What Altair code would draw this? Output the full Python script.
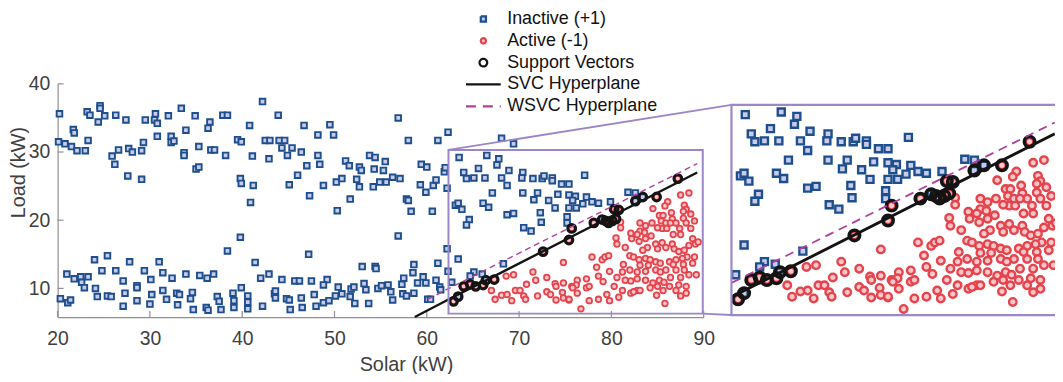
import altair as alt
import pandas as pd

FONT = "Liberation Sans"

# ---------------- data ----------------
inactive = [
    (20.2, 35.6), (24.6, 36.8), (24.6, 36.4), (23.2, 35.9), (23.5, 35.4), (25.1, 35.3), (24.4, 34.4),
    (26.3, 35.4), (27.4, 34.7), (29.5, 34.7), (30.6, 35.6), (30.5, 34.7), (30.8, 34.2), (32.0, 35.3),
    (33.4, 36.4), (34.9, 35.3), (36.5, 34.4), (36.3, 33.5), (37.9, 35.4), (38.4, 35.4), (40.8, 33.9),
    (42.2, 37.4), (43.9, 35.4), (46.7, 33.9),
    (20.1, 31.5), (20.8, 31.2), (21.5, 30.8), (21.7, 33.3), (21.8, 32.8), (22.1, 30.2), (23.0, 30.2),
    (23.3, 31.7), (25.9, 29.4), (26.2, 28.2), (26.6, 30.3), (27.6, 26.5), (27.7, 30.5), (28.1, 30.0),
    (29.1, 30.2), (29.3, 31.4), (29.1, 26.0), (30.8, 32.3), (32.3, 32.3), (32.3, 31.4), (32.6, 31.6),
    (33.9, 33.2), (33.7, 29.9), (33.7, 29.5), (35.3, 30.8), (35.0, 27.5), (35.3, 27.8), (36.6, 30.3),
    (37.0, 30.3), (38.2, 29.5), (39.5, 31.8), (39.9, 31.5), (39.8, 26.1), (39.9, 25.4), (41.1, 29.4),
    (41.2, 25.1), (40.9, 22.6), (42.5, 31.7), (43.0, 31.7), (42.9, 29.0), (44.0, 31.7), (44.6, 31.7),
    (44.3, 30.6), (44.9, 29.5), (45.4, 30.6), (46.4, 30.0), (45.1, 25.2), (46.0, 26.6),
    (39.8, 17.5), (38.4, 15.5), (41.4, 13.8), (24.0, 14.2), (25.4, 14.8), (27.8, 13.9), (31.0, 13.9),
    (21.0, 12.1), (21.8, 11.4), (22.5, 11.7), (22.6, 10.9), (23.3, 11.7), (22.9, 10.1), (24.8, 12.6),
    (26.3, 12.6), (27.1, 11.1), (29.4, 12.6), (30.1, 11.3), (31.4, 12.3), (32.4, 11.5), (33.9, 12.1),
    (35.4, 11.9), (36.2, 11.5), (36.9, 12.1), (39.9, 10.1), (42.0, 11.5), (42.9, 12.1), (44.3, 11.3),
    (45.7, 11.1), (46.2, 11.1),
    (20.3, 8.5), (21.1, 7.9), (21.4, 8.3), (24.1, 10.0), (24.3, 8.8), (25.4, 8.9), (25.8, 8.8),
    (27.1, 7.4), (27.3, 9.3), (28.6, 10.4), (28.6, 10.1), (28.6, 8.2), (30.0, 7.7), (30.2, 9.1),
    (31.4, 9.7), (31.8, 8.4), (32.9, 9.3), (33.2, 9.1), (33.0, 7.6), (34.4, 8.5), (34.6, 9.4),
    (34.7, 6.9), (36.1, 7.2), (36.3, 6.8), (37.3, 8.8), (37.5, 8.1), (37.7, 6.9), (39.0, 9.3),
    (39.1, 8.2), (39.1, 7.2), (40.6, 8.9), (40.6, 8.0), (40.6, 7.0), (42.2, 7.4), (43.5, 9.2),
    (43.6, 9.6), (43.6, 8.6), (44.8, 8.5), (45.1, 8.3), (45.2, 6.9), (46.4, 8.6), (46.5, 7.2),
    (49.5, 34.0), (48.2, 32.5), (49.9, 32.5), (56.9, 35.0), (58.0, 31.7), (61.2, 31.7), (62.3, 32.9),
    (48.2, 29.5), (47.0, 28.0), (48.4, 28.2), (48.8, 25.1), (47.3, 23.6), (50.2, 25.6), (50.8, 26.1),
    (50.3, 21.4), (51.2, 28.7), (51.6, 28.0), (51.7, 23.1), (52.4, 26.0), (52.7, 24.9), (52.7, 27.8),
    (52.9, 27.3), (53.8, 29.5), (54.4, 29.2), (54.3, 27.5), (55.3, 27.3), (55.5, 28.6), (54.2, 24.9),
    (54.9, 25.6), (55.6, 25.6), (56.3, 26.3), (57.1, 26.1), (57.8, 23.1), (58.0, 22.9), (58.3, 21.3),
    (60.6, 21.3), (59.4, 28.2), (60.0, 27.8), (59.3, 25.2), (59.9, 24.1), (60.7, 25.1), (61.0, 25.9),
    (61.9, 27.1), (62.0, 27.7), (62.2, 24.7), (56.9, 17.7), (47.2, 15.0), (62.2, 15.8), (53.0, 13.2),
    (54.4, 13.2), (54.5, 12.9), (58.6, 13.5), (58.5, 12.3), (61.2, 13.7), (62.3, 12.5), (47.5, 11.1),
    (49.2, 11.3), (48.8, 10.5), (47.8, 9.1), (48.0, 7.4), (48.8, 7.9), (49.4, 8.2), (50.4, 10.2),
    (50.1, 8.9), (50.8, 9.2), (51.8, 9.9), (52.1, 10.2), (51.7, 8.8), (52.2, 7.8), (53.2, 10.7),
    (53.4, 9.8), (53.7, 7.8), (54.7, 10.0), (55.1, 10.4), (55.8, 10.5), (56.1, 9.5), (56.3, 8.3),
    (57.3, 10.6), (57.5, 11.5), (57.4, 9.2), (57.8, 8.9), (58.6, 9.3), (59.0, 10.8), (59.6, 11.7),
    (59.9, 10.8), (61.0, 11.2), (61.4, 10.2), (61.5, 9.8), (60.1, 8.4), (60.4, 8.4),
    (68.1, 32.0), (69.4, 31.2),
    (63.5, 29.2), (66.5, 29.5), (67.8, 29.0), (67.6, 28.1), (65.6, 27.6), (64.0, 27.0), (64.3, 26.1),
    (65.1, 26.2), (66.3, 26.2), (68.1, 26.2), (68.9, 27.3), (68.7, 25.1), (70.4, 27.0), (70.3, 26.2),
    (71.5, 26.1), (72.5, 26.1), (72.7, 26.5), (73.6, 26.2), (73.6, 25.8), (74.6, 25.3), (75.4, 25.3),
    (67.1, 24.0), (70.4, 24.0), (72.0, 24.0), (71.6, 23.0), (73.2, 22.9), (74.2, 23.8), (75.4, 23.7),
    (73.9, 21.8), (75.4, 21.8), (63.1, 22.2), (63.4, 22.5), (63.8, 21.6), (66.1, 22.5), (66.7, 21.9),
    (68.7, 20.8), (69.4, 21.0), (72.3, 21.1), (72.4, 19.7), (64.6, 20.1), (64.3, 19.3), (70.5, 18.9),
    (71.3, 18.4), (75.2, 20.5), (75.2, 19.6), (63.4, 14.3), (68.3, 13.6), (65.1, 12.4), (66.0, 12.1),
    (64.7, 11.8), (62.7, 10.9),
    (77.1, 26.6), (76.1, 23.5), (75.8, 22.9), (76.9, 22.4), (77.3, 23.4), (77.9, 22.7), (78.6, 22.5),
    (76.2, 21.8), (79.9, 22.7), (81.8, 24.1), (82.6, 24.0),
    (63.4, 8.8), (66.4, 11.2), (79.0, 20.1), (82.6, 22.8), (83.4, 23.4),
]

active = [
    (74.8, 13.8), (71.5, 12.4), (71.8, 11.2), (68.6, 11.8), (69.4, 12.0), (70.8, 10.6), (73.0, 11.6),
    (73.9, 10.7), (74.0, 10.3), (74.8, 10.8), (75.7, 10.3), (67.0, 9.7), (69.6, 9.7), (70.1, 9.7),
    (70.5, 8.9), (68.1, 9.0), (68.7, 9.1), (67.4, 8.4), (69.2, 8.2), (70.7, 8.4), (72.0, 8.9),
    (73.0, 9.5), (73.4, 9.1), (74.0, 8.3), (74.7, 9.4), (74.8, 8.6), (75.4, 8.3),
    (87.5, 23.7), (88.4, 24.0), (86.1, 22.7), (85.8, 22.1), (84.5, 21.7), (87.9, 22.2), (88.1, 21.6),
    (87.8, 21.3), (81.0, 19.7), (81.0, 18.9), (83.1, 19.6), (83.7, 19.2), (84.4, 19.6), (83.1, 18.4),
    (83.6, 18.2), (85.2, 20.7), (85.6, 20.7), (85.4, 19.9), (85.9, 19.6), (85.5, 18.8), (86.0, 18.8),
    (85.0, 18.9), (86.5, 21.1), (86.6, 20.2), (87.0, 19.6), (86.4, 19.6), (87.4, 18.8), (87.5, 17.9),
    (86.7, 17.9), (87.8, 20.3), (88.1, 19.6), (88.6, 18.8), (89.0, 19.9), (88.6, 20.9), (80.5, 17.4),
    (80.6, 16.5), (81.5, 16.0), (82.1, 18.1), (82.8, 17.9), (83.7, 17.3), (84.3, 17.7), (82.2, 17.3),
    (83.0, 16.9), (84.8, 16.5), (83.9, 16.0), (83.4, 15.6), (85.0, 15.8), (85.5, 16.7), (85.9, 16.0),
    (86.6, 16.5), (86.8, 15.8), (87.3, 15.4), (87.9, 15.6), (88.4, 16.3), (88.8, 17.3), (89.1, 16.5),
    (88.2, 14.6), (87.7, 14.4), (89.0, 14.6), (87.0, 14.2), (87.8, 13.5), (88.8, 13.7), (77.9, 14.6),
    (79.0, 14.2), (79.3, 14.6), (79.7, 14.8), (82.0, 14.8), (82.4, 14.6), (83.0, 14.2), (83.7, 14.4),
    (84.2, 14.2), (84.8, 13.9), (85.3, 13.7), (86.3, 13.9), (86.7, 13.5), (85.9, 12.7), (81.3, 13.5),
    (83.1, 13.4), (84.0, 13.4), (84.8, 12.7), (85.3, 12.4), (87.0, 12.7), (87.9, 12.7), (88.4, 12.0),
    (87.5, 11.6), (86.4, 11.6), (78.4, 13.1), (79.8, 12.5), (81.2, 12.4), (82.0, 12.7), (82.8, 12.4),
    (83.7, 12.5), (78.6, 11.8), (79.1, 11.0), (80.6, 11.6), (81.5, 11.2), (82.1, 11.1), (82.8, 11.4),
    (83.7, 11.2), (84.5, 10.8), (85.2, 11.2), (85.7, 10.9), (86.3, 10.3), (87.3, 10.5), (88.1, 10.3),
    (89.2, 12.0), (77.3, 11.4), (76.3, 11.2), (76.2, 10.5), (75.8, 10.1), (77.3, 10.1), (77.6, 10.3),
    (80.3, 10.3), (81.2, 9.7), (82.8, 9.7), (82.1, 9.3), (84.2, 10.1), (85.0, 10.3), (85.6, 9.7),
    (87.0, 9.7), (88.1, 9.3), (87.5, 8.9), (76.3, 9.3), (77.6, 8.2), (78.6, 8.4), (79.5, 9.1),
    (79.8, 8.2), (80.8, 8.7), (82.4, 9.5), (83.1, 9.7), (84.9, 9.0), (85.8, 7.8), (76.7, 7.0),
    (75.4, 8.4), (89.4, 16.8),
    (62.9, 8.1), (64.0, 10.3), (64.7, 10.6), (65.3, 10.3), (66.1, 10.5), (67.3, 11.3), (72.6, 15.4),
    (75.4, 17.1), (75.7, 18.8), (78.1, 19.6), (79.4, 19.9), (79.7, 19.6), (80.1, 19.9), (80.5, 20.2),
    (80.3, 21.6), (80.8, 21.5), (84.9, 23.4), (87.2, 26.1),
]

support_vectors = [
    (62.9, 8.1), (63.4, 8.8), (64.0, 10.3), (64.7, 10.6), (65.3, 10.3), (66.1, 10.5), (66.4, 11.2),
    (67.3, 11.3), (72.6, 15.4), (75.4, 17.1), (75.7, 18.8), (78.1, 19.6), (79.0, 20.1), (79.4, 19.9),
    (79.7, 19.6), (80.1, 19.9), (80.5, 20.2), (80.3, 21.6), (80.8, 21.5), (82.6, 22.8), (83.4, 23.4),
    (84.9, 23.4), (87.2, 26.1),
]

svc_x = [58.7, 62.4, 89.3]
svc_y = [5.8, 8.4, 27.0]
wsvc_x = [60.1, 62.4, 89.3]
wsvc_y = [8.4, 10.0, 28.3]

zoom_x = [62.35, 89.9]          # zoomed region (box in main plot, range of inset)
zoom_y = [6.3, 30.3]
connector_from = [(62.35, 30.3), (89.9, 6.3)]
connector_to = [(93.0, 36.9), (93.0, 6.1)]   # inset corners, in main-plot units

x_ticks = [20, 30, 40, 50, 60, 70, 80, 90]
y_ticks = [10, 20, 30, 40]

series = ["Inactive (+1)", "Active (-1)", "Support Vectors", "SVC Hyperplane", "WSVC Hyperplane"]

# ---------------- styling ----------------
BLUE, BLUE_FILL = "#1d4e8d", "#c9cbe8"
RED, RED_FILL = "#e6434b", "#f9c7cc"
SVC_COL = "#141414"
WSVC_COL = "#b03f9e"
FRAME = "#9b87c8"
AXIS_GRAY = "#8f8f8f"
TEXT_GRAY = "#3f3f3f"

df_in = pd.DataFrame(inactive, columns=["x", "y"])
df_ac = pd.DataFrame(active, columns=["x", "y"])
df_sv = pd.DataFrame(support_vectors, columns=["x", "y"])
df_svc = pd.DataFrame({"x": svc_x, "y": svc_y})
df_wsvc = pd.DataFrame({"x": wsvc_x, "y": wsvc_y})
df_box = pd.DataFrame({"x": [zoom_x[0]], "x2": [zoom_x[1]], "y": [zoom_y[0]], "y2": [zoom_y[1]]})
df_conn = pd.DataFrame({
    "x": [p[0] for p in connector_from], "y": [p[1] for p in connector_from],
    "x2": [p[0] for p in connector_to], "y2": [p[1] for p in connector_to],
})
df_xt = pd.DataFrame({"x": x_ticks})
df_yt = pd.DataFrame({"y": y_ticks})
df_leg = pd.DataFrame({"series": series})

MX = alt.Scale(domain=[20, 90], range=[0, 651], nice=False, zero=False)
MY = alt.Scale(domain=[5.8, 40], range=[235, 0], nice=False, zero=False)
IX = alt.Scale(domain=zoom_x, range=[679, 1012], nice=False, zero=False)
IY = alt.Scale(domain=zoom_y, range=[233, 21.3], nice=False, zero=False)

x_axis = alt.Axis(values=x_ticks, format="d", ticks=False, grid=False, labelFlush=False,
                  domainColor=AXIS_GRAY, domainWidth=1.2,
                  labelFont=FONT, labelFontSize=19.5, labelColor=TEXT_GRAY, labelPadding=13,
                  title="Solar (kW)", titleFont=FONT, titleFontSize=20, titleFontWeight="normal",
                  titleColor=TEXT_GRAY, titleX=351, titleY=54, titleBaseline="alphabetic",
                  titleAlign="center")
y_axis = alt.Axis(values=y_ticks, format="d", ticks=False, grid=False, labelFlush=False,
                  domainColor=AXIS_GRAY, domainWidth=1.2,
                  labelFont=FONT, labelFontSize=19.5, labelColor=TEXT_GRAY, labelPadding=8,
                  title="Load (kW)", titleFont=FONT, titleFontSize=20, titleFontWeight="normal",
                  titleColor=TEXT_GRAY, titleX=-33, titleY=89, titleAngle=270,
                  titleBaseline="alphabetic", titleAlign="center")

XM = alt.X("x:Q", scale=MX, axis=x_axis)
YM = alt.Y("y:Q", scale=MY, axis=y_axis)
XI = alt.X("x:Q", scale=IX, axis=None)
YI = alt.Y("y:Q", scale=IY, axis=None)

# ---------------- legend (from a scale-driven, mark-less layer) ----------------
SQ = "M-0.15,-0.15H0.15V0.15H-0.15Z"
CIR = "M0.15,0A0.15,0.15,0,1,1,-0.15,0A0.15,0.15,0,1,1,0.15,0Z"
RING = "M0.22,0A0.22,0.22,0,1,1,-0.22,0A0.22,0.22,0,1,1,0.22,0Z"
LINE = "M-1,0H1"
LEG = alt.Legend(orient="none", legendX=410, legendY=-76, title=None,
                 labelFont=FONT, labelFontSize=18, labelColor="#111111", labelOffset=5,
                 symbolSize=1225, symbolStrokeWidth=2.2, clipHeight=21.3, rowPadding=0, padding=0)
legend_layer = alt.Chart(df_leg).mark_point(opacity=1).encode(
    fill=alt.Fill("series:N", scale=alt.Scale(domain=series, range=[BLUE_FILL, RED_FILL, "transparent", "transparent", "transparent"]), legend=LEG),
    stroke=alt.Stroke("series:N", scale=alt.Scale(domain=series, range=[BLUE, RED, SVC_COL, SVC_COL, WSVC_COL]), legend=LEG),
    shape=alt.Shape("series:N", scale=alt.Scale(domain=series, range=[SQ, CIR, RING, LINE, LINE]), legend=LEG),
    strokeDash=alt.StrokeDash("series:N", scale=alt.Scale(domain=series, range=[[1, 0], [1, 0], [1, 0], [1, 0], [10, 7]]), legend=LEG),
).transform_filter("false")

# ---------------- main plot ----------------
m_blue = alt.Chart(df_in).mark_point(shape="square", size=32, strokeWidth=1.9, stroke=BLUE,
                                     fill=BLUE_FILL, opacity=1).encode(x=XM, y=YM)
m_red = alt.Chart(df_ac).mark_point(shape="circle", size=32, strokeWidth=1.8, stroke=RED,
                                    fill=RED_FILL, opacity=1).encode(x=XM, y=YM)
m_sv = alt.Chart(df_sv).mark_point(shape="circle", size=62, strokeWidth=3, stroke=SVC_COL,
                                   fillOpacity=0, opacity=1).encode(x=XM, y=YM)
m_svc = alt.Chart(df_svc).mark_line(color=SVC_COL, strokeWidth=2.4).encode(x=XM, y=YM)
m_wsvc = alt.Chart(df_wsvc).mark_line(color=WSVC_COL, strokeWidth=1.4, strokeDash=[6, 4]).encode(x=XM, y=YM)
m_box = alt.Chart(df_box).mark_rect(fillOpacity=0, stroke=FRAME, strokeWidth=2).encode(
    x=XM, x2="x2:Q", y=YM, y2="y2:Q")
m_conn = alt.Chart(df_conn).mark_rule(color=FRAME, strokeWidth=1.8).encode(
    x=XM, x2="x2:Q", y=YM, y2="y2:Q")
m_xt = alt.Chart(df_xt).mark_rule(color=AXIS_GRAY, strokeWidth=1.2).encode(
    x=XM, y=alt.value(235), y2=alt.value(229))
m_yt = alt.Chart(df_yt).mark_rule(color=AXIS_GRAY, strokeWidth=1.2).encode(
    y=YM, x=alt.value(0), x2=alt.value(6))

main = alt.layer(m_xt, m_yt, m_blue, m_red, m_sv, m_svc, m_wsvc, m_box, m_conn, legend_layer)

# ---------------- inset (zoomed view of the box) ----------------
inside = (f"datum.x >= {zoom_x[0]} && datum.x <= {zoom_x[1]} && "
          f"datum.y >= {zoom_y[0]} && datum.y <= {zoom_y[1]}")
i_blue = alt.Chart(df_in).mark_point(shape="square", size=50, strokeWidth=2.4, stroke=BLUE,
                                     fill=BLUE_FILL, opacity=1, clip=True).encode(x=XI, y=YI).transform_filter(inside)
i_red = alt.Chart(df_ac).mark_point(shape="circle", size=58, strokeWidth=2.4, stroke=RED,
                                    fill=RED_FILL, opacity=1, clip=True).encode(x=XI, y=YI).transform_filter(inside)
i_sv = alt.Chart(df_sv).mark_point(shape="circle", size=110, strokeWidth=3.6, stroke=SVC_COL,
                                   fillOpacity=0, opacity=1, clip=True).encode(x=XI, y=YI).transform_filter(inside)
i_svc = alt.Chart(df_svc).mark_line(color=SVC_COL, strokeWidth=2.9, clip=True).encode(
    x=XI, y=YI).transform_filter(f"datum.x >= {zoom_x[0]}")
i_wsvc = alt.Chart(df_wsvc).mark_line(color=WSVC_COL, strokeWidth=1.8, strokeDash=[9, 6], clip=True).encode(
    x=XI, y=YI).transform_filter(f"datum.x >= {zoom_x[0]}")
i_frame = alt.Chart(df_box).mark_rect(fillOpacity=0, stroke=FRAME, strokeWidth=2.2).encode(
    x=XI, x2="x2:Q", y=YI, y2="y2:Q")

inset = alt.layer(i_blue, i_red, i_sv, i_svc, i_wsvc, i_frame)

chart = alt.layer(main, inset).resolve_scale(x="independent", y="independent").properties(
    width=1005, height=235,
    padding={"left": 50, "top": 75, "right": 0, "bottom": 56},
    autosize=alt.AutoSizeParams(type="none"),
).configure_view(strokeWidth=0)

chart.save("out.html", embed_options={"renderer": "svg", "actions": False})
